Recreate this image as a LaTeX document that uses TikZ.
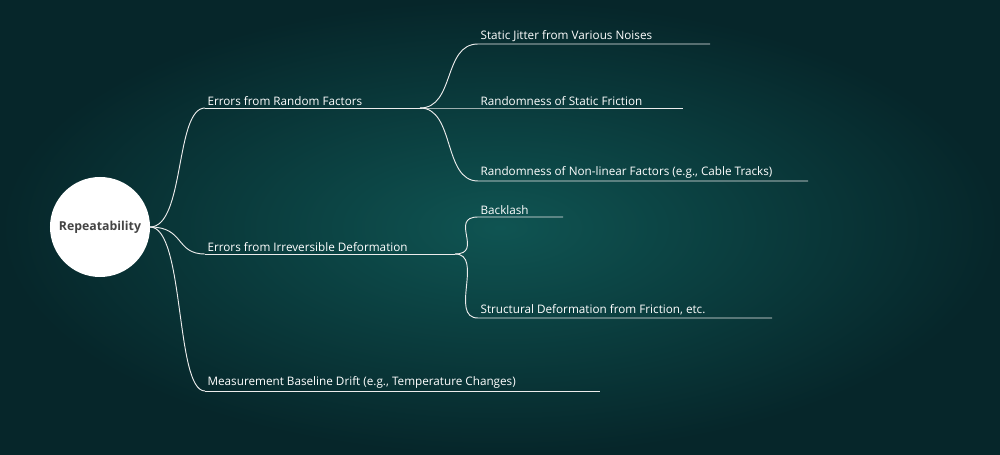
\documentclass[tikz,border=0pt]{standalone}
\usepackage{fontspec}
\setmainfont{Open Sans}
\usetikzlibrary{positioning}
\definecolor{bgin}{HTML}{0F5452}
\definecolor{bgout}{HTML}{06262A}
\definecolor{rootfg}{HTML}{444444}
\tikzset{
  topic/.style={anchor=south west,inner sep=2pt,text=white,font=\fontsize{10}{12}\selectfont},
  branch/.style={draw=white!85!gray,line width=0.8pt},
}
\begin{document}
\begin{tikzpicture}[x=0.03cm,y=-0.03cm]
\shade[inner color=bgin,outer color=bgout] (0,0) rectangle (1000,455);
\useasboundingbox (0,0) rectangle (1000,455);
\node[circle,fill=white,minimum size=3cm,inner sep=0pt,text=rootfg,font=\fontsize{10.5}{12}\selectfont\bfseries] (root) at (100,227) {Repeatability};
\coordinate (r) at (150,227);
% first level
\node[topic] (b1) at (205,108) {Errors from Random Factors};
\node[topic] (b2) at (205,254) {Errors from Irreversible Deformation};
\node[topic] (b3) at (205,391) {Measurement Baseline Drift (e.g., Temperature Changes)};
\coordinate (b1e) at (420,108);
\coordinate (b2e) at (455,254);
\coordinate (b3e) at (600,391);
% second level
\node[topic] (c1) at (478,44) {Static Jitter from Various Noises};
\node[topic] (c2) at (478,108) {Randomness of Static Friction};
\node[topic] (c3) at (478,181) {Randomness of Non-linear Factors (e.g., Cable Tracks)};
\node[topic] (d1) at (478,217) {Backlash};
\node[topic] (d2) at (478,318) {Structural Deformation from Friction, etc.};
\coordinate (c1e) at (710,44);
\coordinate (c2e) at (683,108);
\coordinate (c3e) at (808,181);
\coordinate (d1e) at (563,217);
\coordinate (d2e) at (772,318);
% connectors
\draw[branch] (r) .. controls (185,227) and (175,108) .. (b1.south west);
\draw[branch] (r) .. controls (185,227) and (175,254) .. (b2.south west);
\draw[branch] (r) .. controls (185,227) and (175,391) .. (b3.south west);
\draw[branch] (b1.south west) -- (b1e);
\draw[branch] (b2.south west) -- (b2e);
\draw[branch] (b3.south west) -- (b3e);
\foreach \c in {c1,c2,c3}
  \draw[branch] (b1e) .. controls ([xshift=30]b1e) and ([xshift=-30]\c.south west) .. (\c.south west) -- (\c e);
\foreach \c in {d1,d2}
  \draw[branch] (b2e) .. controls ([xshift=25]b2e) and ([xshift=-25]\c.south west) .. (\c.south west) -- (\c e);
\end{tikzpicture}
\end{document}
